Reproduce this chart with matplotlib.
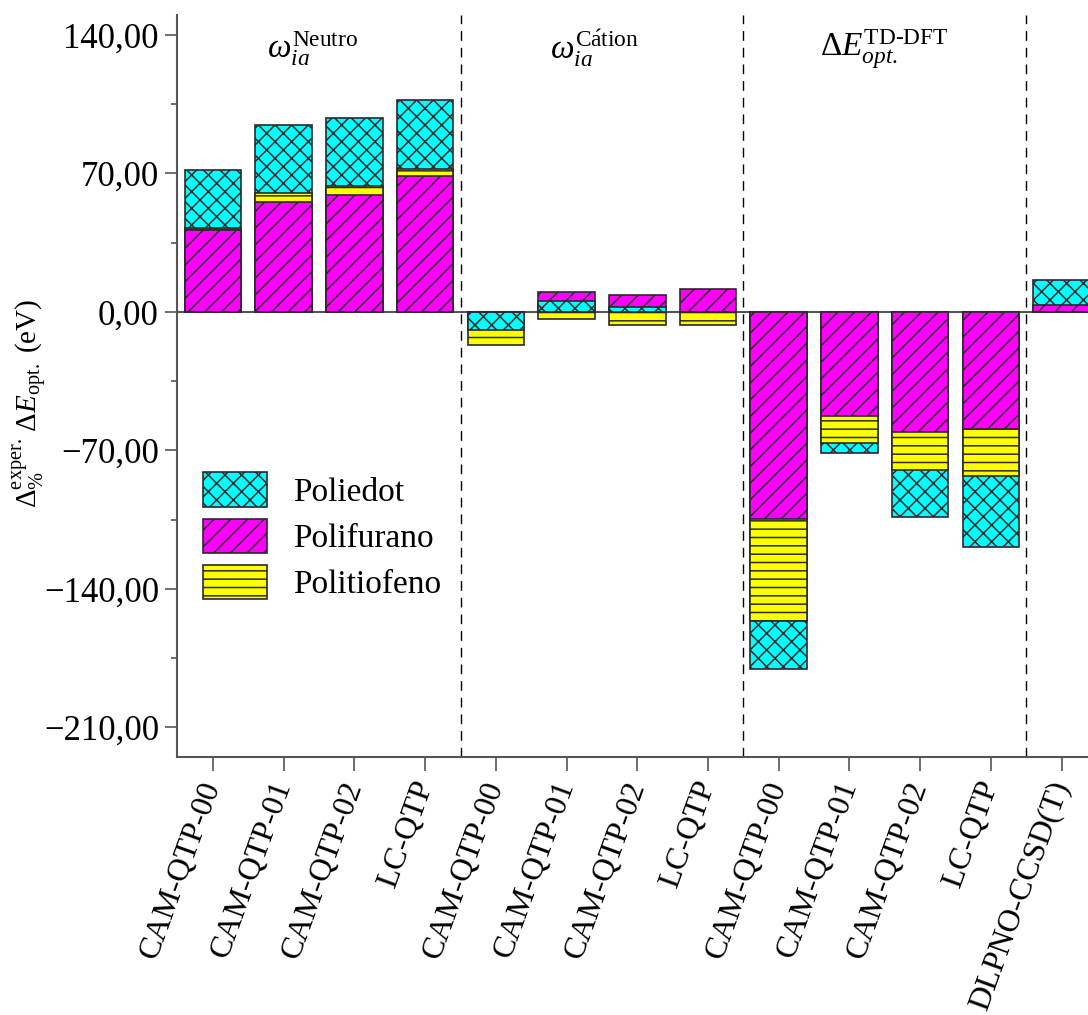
import numpy as np
import matplotlib
matplotlib.use("Agg")
import matplotlib.pyplot as plt
from matplotlib.patches import Patch
from matplotlib.ticker import MultipleLocator, FuncFormatter

plt.rcParams['font.family'] = ['Liberation Serif', 'DejaVu Serif']
plt.rcParams['mathtext.fontset'] = 'custom'
plt.rcParams['mathtext.rm'] = 'Liberation Serif'
plt.rcParams['mathtext.it'] = 'Liberation Serif:italic'
plt.rcParams['hatch.linewidth'] = 1.1

# funcionais / metodos
metodos = ['CAM-QTP-00', 'CAM-QTP-01', 'CAM-QTP-02', 'LC-QTP',
           'CAM-QTP-00', 'CAM-QTP-01', 'CAM-QTP-02', 'LC-QTP',
           'CAM-QTP-00', 'CAM-QTP-01', 'CAM-QTP-02', 'LC-QTP',
           'DLPNO-CCSD(T)']

# desvio percentual em relacao ao experimental
poliedot    = [71.9, 94.2, 98.1, 107.0, -9.2, 5.7, 2.4, 0.0,
               -180.4, -71.2, -103.6, -118.8, 16.0]
polifurano  = [41.5, 55.4, 59.2, 68.4, 0.0, 9.9, 8.6, 11.4,
               -104.9, -52.5, -60.8, -59.1, 3.4]
politiofeno = [42.5, 60.3, 63.7, 72.0, -16.8, -3.5, -6.6, -6.7,
               -156.3, -66.1, -80.2, -82.9, 0.0]

grupos = [r'$\omega_{ia}^{\mathrm{Neutro}}$',
          r'$\omega_{ia}^{\mathrm{C\acute{a}tion}}$',
          r'$\Delta E_{opt.}^{\mathrm{TD\text{-}DFT}}$']

series = [('Poliedot', poliedot, '#00ffff', 'xx'),
          ('Polifurano', polifurano, '#ff00ff', '//'),
          ('Politiofeno', politiofeno, '#ffff00', '--')]

fig = plt.figure(figsize=(10.88, 10.15), dpi=100)
ax = fig.add_axes([0.1627, 0.2542, 0.8383, 0.731])

x = np.arange(len(metodos))
larg = 0.8
borda = '#2a2a2a'

# barras sobrepostas: a de maior modulo fica atras
for i in x:
    ordem = sorted(series, key=lambda s: -abs(s[1][i]))
    for k, (nome, vals, cor, hatch) in enumerate(ordem):
        ax.bar(i, vals[i], larg, color=cor, edgecolor=borda, hatch=hatch,
               linewidth=1.2, zorder=2 + 0.1 * k)

ax.axhline(0, color='#555555', lw=1.5, zorder=1.5)
for xv in [3.5, 7.5, 11.5]:
    ax.axvline(xv, color='black', lw=1.0, dashes=(7, 5), zorder=1)

for xg, txt in zip([1.4, 5.4, 9.5], grupos):
    ax.text(xg, 133, txt, ha='center', va='center', fontsize=24)

ax.set_xlim(-0.51, 12.39)
ax.set_ylim(-225, 150)
ax.yaxis.set_major_locator(MultipleLocator(70))
ax.yaxis.set_minor_locator(MultipleLocator(35))
ax.yaxis.set_major_formatter(FuncFormatter(
    lambda v, p: ('%.2f' % v).replace('.', ',').replace('-', '\u2212')))

ax.set_xticks(x)
ax.set_xticklabels(metodos, rotation=70, ha='right', va='center',
                   rotation_mode='anchor', fontsize=23)
ax.tick_params(axis='y', which='major', length=9, width=1.2,
               color='#555555', labelsize=25, pad=4)
ax.tick_params(axis='y', which='minor', length=4.5, width=1.2,
               color='#555555')
ax.tick_params(axis='x', length=10, width=1.2, color='#555555', pad=8)

for lado in ['top', 'right']:
    ax.spines[lado].set_visible(False)
for lado in ['left', 'bottom']:
    ax.spines[lado].set_color('#555555')
    ax.spines[lado].set_linewidth(1.5)

ax.set_ylabel(r'$\Delta_{\%}^{\mathrm{exper.}}\,\Delta E_{\mathrm{opt.}}$ (eV)',
              fontsize=21)
ax.yaxis.set_label_coords(-0.14, 0.477)

alcas = [Patch(facecolor=c, edgecolor=borda, hatch=h, linewidth=1.2, label=n)
         for n, v, c, h in series]
ax.legend(handles=alcas, loc='upper left', bbox_to_anchor=(-0.004, 0.424),
          frameon=False, fontsize=24, handlelength=1.9, handleheight=1.2,
          labelspacing=0.33, handletextpad=0.8)

fig.savefig('out.png', dpi=100)
